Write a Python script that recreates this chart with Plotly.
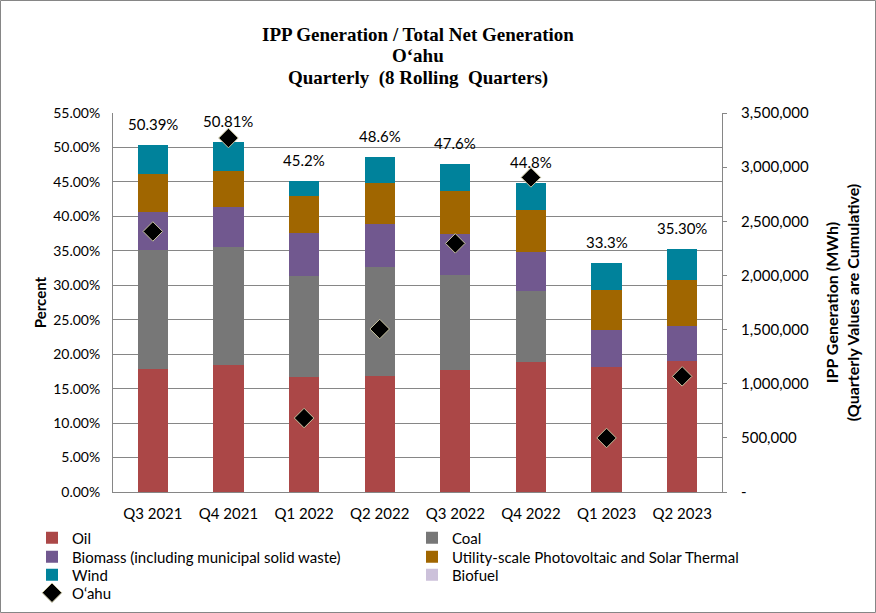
import plotly.graph_objects as go

quarters = ["Q3 2021", "Q4 2021", "Q1 2022", "Q2 2022", "Q3 2022", "Q4 2022", "Q1 2023", "Q2 2023"]
oil = [0.1785, 0.1843, 0.1673, 0.1688, 0.1775, 0.1890, 0.1808, 0.1900]
coal = [0.1731, 0.1717, 0.1466, 0.1582, 0.1378, 0.1031, 0.0, 0.0]
biomass = [0.0552, 0.0576, 0.0619, 0.0624, 0.0595, 0.0566, 0.0547, 0.0513]
solar = [0.0551, 0.0527, 0.0541, 0.0585, 0.0624, 0.0610, 0.0581, 0.0668]
wind = [0.0420, 0.0418, 0.0220, 0.0381, 0.0392, 0.0391, 0.0387, 0.0450]
biofuel = [0, 0, 0, 0, 0, 0, 0, 0]
oahu_mwh = [2406000, 3269000, 683000, 1505000, 2296000, 2905000, 499000, 1068000]
total_labels = ["50.39%", "50.81%", "45.2%", "48.6%", "47.6%", "44.8%", "33.3%", "35.30%"]
right_ticks = [0, 500000, 1000000, 1500000, 2000000, 2500000, 3000000, 3500000]
right_ticktext = ["-", "500,000", "1,000,000", "1,500,000", "2,000,000", "2,500,000", "3,000,000", "3,500,000"]
title_lines = ["IPP Generation / Total Net Generation", "O‘ahu", "Quarterly  (8 Rolling  Quarters)"]

FONT = "Lato, Calibri, sans-serif"
TFONT = "Liberation Serif, Times New Roman, serif"
GRID = "#868686"

W, H = 876, 613
ml, mr, mt, mb = 113, 154, 113, 121
pw, ph = W - ml - mr, H - mt - mb


def px_x(px):
    return (px - ml) / pw


def px_y(py):
    return (H - mb - py) / ph


# legend slot for each trace: (legend id, x of text start px, row y px)
series = [
    ("Oil", oil, "#AB4747", "legend", 77, 538),
    ("Coal", coal, "#777777", "legend2", 457, 538),
    ("Biomass (including municipal solid waste)", biomass, "#71588F", "legend3", 77, 557),
    ("Utility-scale Photovoltaic and Solar Thermal", solar, "#A06600", "legend4", 457, 557),
    ("Wind", wind, "#00829B", "legend5", 77, 575),
    ("Biofuel", biofuel, "#CCC1DA", "legend6", 457, 575),
]
oahu_slot = ("legend7", 77, 593)

fig = go.Figure()
for name, vals, col, leg, _, _ in series:
    fig.add_trace(go.Bar(x=quarters, y=vals, name=name, marker=dict(color=col, line=dict(width=0)),
                         yaxis="y", legend=leg))

fig.add_trace(go.Scatter(x=quarters, y=oahu_mwh, name="O‘ahu", mode="markers", yaxis="y2",
                         legend=oahu_slot[0],
                         marker=dict(symbol="diamond", size=15, color="black",
                                     line=dict(color="#C8C4A0", width=1))))

totals = [o + c + b + s + w + bf for o, c, b, s, w, bf in zip(oil, coal, biomass, solar, wind, biofuel)]
for q, t, lab in zip(quarters, totals, total_labels):
    fig.add_annotation(x=q, y=t, xref="x", yref="y", text=lab, showarrow=False, yshift=21,
                       font=dict(family=FONT, size=15, color="black"))

for line, ypx in zip(title_lines, [34, 56, 78]):
    fig.add_annotation(x=0.5, y=px_y(ypx), xref="paper", yref="paper", text="<b>" + line + "</b>",
                       showarrow=False, xanchor="center", yanchor="middle",
                       font=dict(family=TFONT, size=19, color="black"))

fig.add_shape(type="rect", xref="paper", yref="paper",
              x0=px_x(0.5), x1=px_x(W - 0.5), y0=px_y(H - 0.5), y1=px_y(0.5),
              line=dict(color="#868686", width=1), fillcolor="rgba(0,0,0,0)", layer="below")

legend_font = dict(family=FONT, size=15, color="black")
TEXT_OFF = 45
legends = {}
for _, _, _, leg, tx, ty in series + [(None, None, None) + oahu_slot]:
    legends[leg] = dict(x=px_x(tx - TEXT_OFF), xanchor="left", y=px_y(ty), yanchor="middle",
                        orientation="v", font=legend_font, itemwidth=30, bgcolor="rgba(0,0,0,0)",
                        borderwidth=0)

fig.update_layout(
    width=W, height=H,
    margin=dict(l=ml, r=mr, t=mt, b=mb, autoexpand=False),
    paper_bgcolor="white", plot_bgcolor="white",
    barmode="stack", bargap=0.6,
    font=dict(family=FONT, size=14, color="black"),
    xaxis=dict(showline=True, linecolor=GRID, linewidth=1, ticks="", tickfont=dict(size=15),
               showgrid=False, ticklabelstandoff=8),
    yaxis=dict(range=[0, 0.55], dtick=0.05, tickformat=".2%", showgrid=True, gridcolor=GRID,
               showline=True, linecolor=GRID, ticks="", zeroline=False, ticklabelstandoff=9,
               title=dict(text="<b>Percent</b>", font=dict(size=15), standoff=2),
               tickfont=dict(size=14)),
    yaxis2=dict(overlaying="y", side="right", range=[0, 3500000], tickvals=right_ticks,
                ticktext=right_ticktext, showgrid=False, showline=True, linecolor=GRID,
                ticks="outside", ticklen=4, tickcolor=GRID, zeroline=False, ticklabelstandoff=11,
                title=dict(text="<b>IPP Generation (MWh)<br>(Quarterly Values are Cumulative)</b>",
                           font=dict(size=16), standoff=18),
                tickfont=dict(size=15)),
    showlegend=True,
    **legends,
)

fig.write_html("out.html", config={"displayModeBar": False},
               post_script="document.body.style.margin='0';")
